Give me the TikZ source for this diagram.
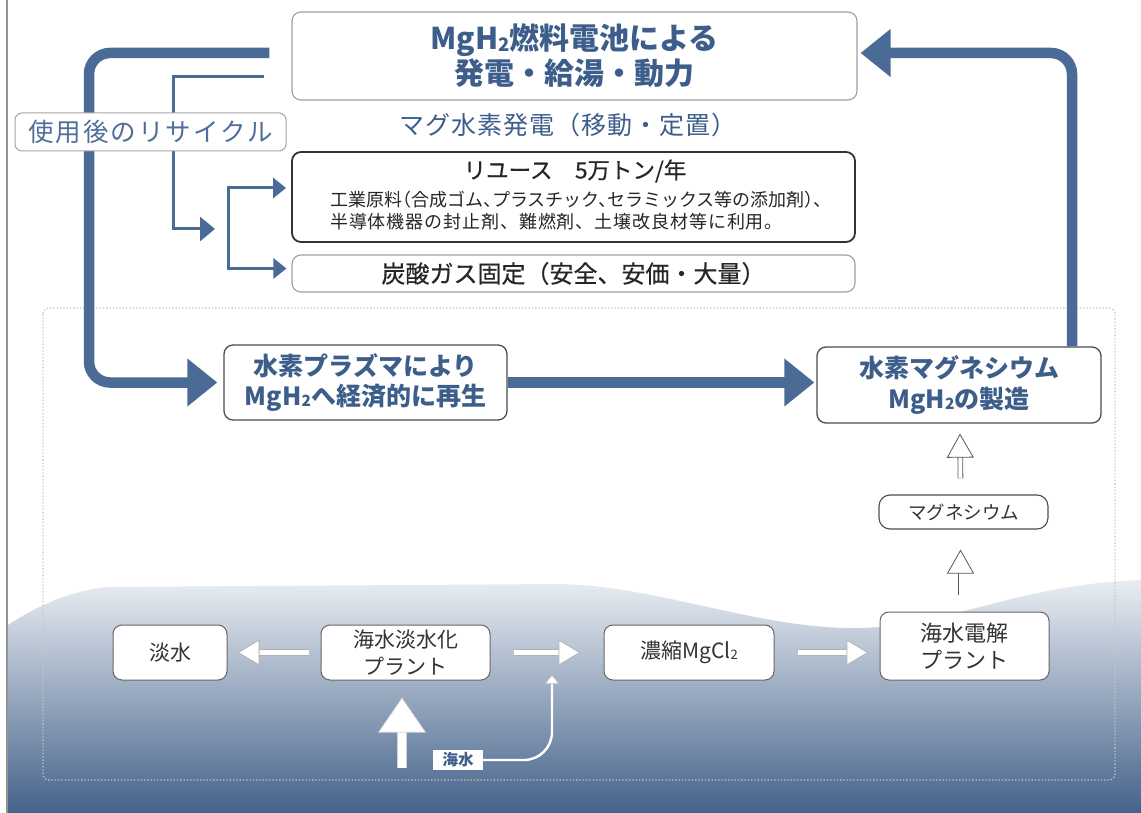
\documentclass[tikz,border=0pt]{standalone}
\usepackage{fontspec}
\usepackage{graphicx}
\setmainfont{Noto Sans CJK JP}
\newfontfamily\jpmed[FakeBold=0.5]{Noto Sans CJK JP}
\newfontfamily\jphalt[RawFeature=+halt]{Noto Sans CJK JP}
\usetikzlibrary{arrows.meta,calc}
\definecolor{ablue}{HTML}{4A6B96}
\definecolor{tblue}{HTML}{3D5E8B}
\definecolor{lblue}{HTML}{4F6F9A}
\definecolor{dtext}{HTML}{333333}
\newcommand\subtwo{\raisebox{-0.06em}{\scalebox{0.62}{2}}}
\begin{document}
\begin{tikzpicture}[x=1pt,y=-1pt,
  box/.style={rounded corners=9pt, fill=white, inner sep=0pt, align=center},
  thickarrow/.style={draw=ablue, line width=10.5pt, rounded corners=21pt, -{Triangle[length=30pt,width=46pt]}},
  thinarrow/.style={draw=ablue, line width=3pt, -{Triangle[length=15pt,width=24pt]}},
  brarrow/.style={draw=ablue, line width=3pt, -{Triangle[length=13pt,width=20pt]}},
  warrow/.style={draw=white, line width=4.5pt, preaction={draw=gray!60, line width=6.2pt, shorten >=14pt, arrows=-}, -{Triangle[length=22pt,width=26pt,color=gray!60,fill=white,line width=0.8pt]}},
  garrow/.style={draw=white, line width=4pt, preaction={draw=black!65, line width=5.6pt, shorten >=14pt, arrows=-}, -{Triangle[length=24pt,width=27pt,color=black!65,fill=white,line width=0.8pt]}},
  barrow/.style={draw=white, line width=8pt, preaction={draw=gray!35, line width=9.4pt, shorten >=20pt, arrows=-}, -{Triangle[length=35pt,width=48pt,color=gray!35,fill=white,line width=0.7pt]}},
  sarrow/.style={draw=white, line width=2.4pt, rounded corners=28pt, -{Triangle[length=9pt,width=15pt,color=gray!50,fill=white,line width=0.6pt]}}
]
\useasboundingbox (0,0) rectangle (1141,813);
\fill[white] (0,0) rectangle (1141,813);
% sea background
\shade[top color=white!88!ablue, middle color=white!58!ablue, bottom color=ablue!92!black]
  (8,625) .. controls (40,604) and (70,592) .. (105,587) -- (560,584)
  .. controls (660,586) and (760,630) .. (860,628)
  .. controls (950,626) and (1020,584) .. (1141,580)
  -- (1141,813) -- (8,813) -- cycle;
\draw[gray!85, line width=1.4pt] (7,0) -- (7,813);
\draw[dotted, draw=gray!45, line width=1.3pt, rounded corners=6pt] (43,308) rectangle (1115,780);

% top nodes
\node[box, draw=gray!75, line width=1.1pt, minimum width=565pt, minimum height=88pt,
  font=\fontsize{30}{35}\selectfont\bfseries, text=tblue] (top) at (574.5,56)
  {MgH\subtwo 燃料電池による\\発電・給湯・動力};
\node[text=tblue, font=\fontsize{25}{28}\selectfont\addfontfeature{LetterSpace=4}, inner sep=0pt] (mag) at (568,125) {マグ水素発電（移動・定置）};
\node[box, draw=black!80, line width=1.8pt, minimum width=563pt, minimum height=90pt] (reuse) at (573.5,197) {};
\node[font=\fontsize{22.5}{26}\jpmed, text=black!85, inner sep=0pt] (reuseT) at (575,171) {リユース　5万トン/年};
\node[font=\fontsize{18}{20}\jphalt, text=black!85, inner sep=0pt, anchor=west] (reuseA) at (330,200) {工業原料（合成ゴム、プラスチック、セラミックス等の添加剤）、};
\node[font=\fontsize{18}{20}\selectfont\addfontfeature{LetterSpace=5}, text=black!85, inner sep=0pt, anchor=west] (reuseB) at (330,222) {半導体機器の封止剤、難燃剤、土壌改良材等に利用。};
\node[box, draw=gray!75, line width=1.1pt, minimum width=563pt, minimum height=37pt,
  font=\fontsize{24}{26}\jpmed, text=black!85] (carb) at (573.5,273.5) {炭酸ガス固定（安全、安価・大量）};

% middle nodes
\node[box, draw=black!70, line width=1.3pt, minimum width=283pt, minimum height=75pt,
  font=\fontsize{25}{30}\selectfont\bfseries, text=tblue] (plasma) at (365.5,382.5)
  {水素プラズマにより\\MgH\subtwo へ経済的に再生};
\node[box, draw=black!70, line width=1.3pt, minimum width=284pt, minimum height=76pt,
  font=\fontsize{25}{31}\selectfont\bfseries, text=tblue] (mgh2) at (959,385)
  {水素マグネシウム\\MgH\subtwo の製造};
\node[box, rounded corners=11pt, draw=black!70, line width=1.1pt, minimum width=169pt, minimum height=34pt,
  font=\fontsize{18.5}{20}\selectfont, text=dtext] (mg) at (963.5,512) {マグネシウム};

% lower nodes
\node[box, draw=black!60, line width=1pt, minimum width=114pt, minimum height=55pt,
  font=\fontsize{21}{27}\selectfont, text=dtext] (fresh) at (170,652.5) {淡水};
\node[box, draw=black!60, line width=1pt, minimum width=169pt, minimum height=55pt,
  font=\fontsize{21}{27}\selectfont, text=dtext] (desal) at (405.5,652.5) {海水淡水化\\プラント};
\node[box, draw=black!60, line width=1pt, minimum width=170pt, minimum height=55pt,
  font=\fontsize{21}{25}\selectfont, text=dtext] (conc) at (689,652.5) {濃縮MgCl\subtwo};
\node[box, draw=black!60, line width=1pt, minimum width=169pt, minimum height=68pt,
  font=\fontsize{22}{27}\selectfont, text=dtext] (elec) at (964.5,646) {海水電解\\プラント};
\node[fill=white, inner sep=0pt, minimum width=50pt, minimum height=20pt,
  font=\fontsize{15.5}{16}\selectfont\bfseries, text=tblue] (sea) at (458,760) {海水};

% coordinates
\coordinate (lft) at (89,0);
\coordinate (thinx) at (173,0);
\coordinate (br) at (228,229);
\coordinate (join) at (552,675);
\coordinate (seasrc) at (402,768);

% thick loop
\draw[thickarrow] ($(top.west)+(-22,-3)$) -| (lft |- plasma.west) -- ($(plasma.west)+(-6,0)$);
\draw[thickarrow] (plasma.east) -- ($(plasma.east -| mgh2.west)+(-2,0)$);
\draw[thickarrow] ($(mgh2.north)+(113,0)$) |- ($(top.east)+(3,-3)$);

% thin recycle lines
\draw[thinarrow] ($(top.west)+(-27,21)$) -| (thinx |- br) -- ($(br)+(-13,0)$);
\draw[brarrow] (br) |- ($(reuse.west)+(-5,-9)$);
\draw[brarrow] (br) |- ($(carb.west)+(-5,-5)$);

\node[box, rounded corners=7pt, draw=gray!70, line width=1pt, minimum width=271pt, minimum height=38pt,
  font=\fontsize{25.5}{28}\selectfont\addfontfeature{LetterSpace=8}, text=lblue] (recyc) at (150.5,132) {使用後のリサイクル};

% hollow arrows upper
\draw[garrow] ($(mg.north)+(-3,-16)$) -- ($(mgh2.south)+(1,10)$);
\draw[garrow] ($(elec.north)+(-4,-17)$) -- ($(mg.south)+(-3,20)$);

% lower white arrows
\draw[warrow] ($(desal.west)+(-12,0)$) -- ($(fresh.east)+(10,0)$);
\draw[warrow] ($(desal.east)+(23,0)$) -- ($(conc.west)+(-23,0)$);
\draw[warrow] ($(conc.east)+(23,0)$) -- ($(conc.east -| elec.west)+(-11,0)$);
\draw[barrow] (seasrc) -- ($(desal.south)+(-3.5,17)$);
\draw[sarrow] (sea.east) -| (join);
\end{tikzpicture}
\end{document}
